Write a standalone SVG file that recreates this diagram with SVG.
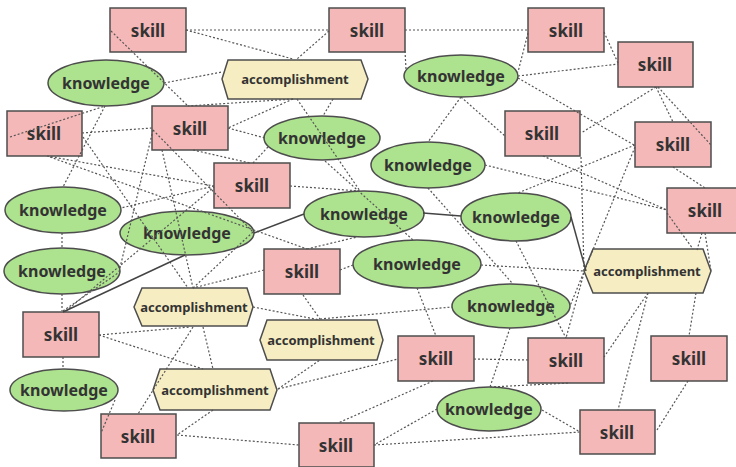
<svg xmlns="http://www.w3.org/2000/svg" width="736" height="467" viewBox="0 0 736 467">
<style>
.sk rect{fill:#f4b8b8;stroke:#4d4d4d;stroke-width:1.5}
.kn ellipse{fill:#ade28e;stroke:#4d4d4d;stroke-width:1.5}
.ac polygon{fill:#f6edc2;stroke:#4d4d4d;stroke-width:1.5}
text{font-family:"Noto Sans","Open Sans",sans-serif;font-weight:bold;fill:#333;text-anchor:middle;dominant-baseline:central}
.sk text{font-size:17px}
.kn text{font-size:16px}
.ac text{font-size:13px}
.d line{stroke:#555;stroke-width:1.2;stroke-dasharray:2 2;fill:none}
.s line{stroke:#444;stroke-width:1.5;fill:none}
</style>
<rect width="736" height="467" fill="#fff"/>
<g id="nodes">
<g id="S1" class="sk"><rect x="110" y="8" width="76" height="44"/><text x="148" y="30">skill</text></g>
<g id="S2" class="sk"><rect x="329" y="8" width="76" height="44"/><text x="367" y="30">skill</text></g>
<g id="S3" class="sk"><rect x="528" y="8" width="76" height="44"/><text x="566" y="30">skill</text></g>
<g id="S4" class="sk"><rect x="618" y="42" width="75" height="45"/><text x="655" y="64">skill</text></g>
<g id="S5" class="sk"><rect x="7" y="111" width="75" height="45"/><text x="44" y="133">skill</text></g>
<g id="S6" class="sk"><rect x="152" y="106" width="76" height="44"/><text x="190" y="128">skill</text></g>
<g id="S7" class="sk"><rect x="214" y="163" width="76" height="45"/><text x="252" y="185">skill</text></g>
<g id="S8" class="sk"><rect x="505" y="111" width="75" height="45"/><text x="542" y="133">skill</text></g>
<g id="S9" class="sk"><rect x="635" y="122" width="76" height="45"/><text x="673" y="144">skill</text></g>
<g id="S10" class="sk"><rect x="667" y="188" width="76" height="45"/><text x="705" y="210">skill</text></g>
<g id="S11" class="sk"><rect x="264" y="249" width="76" height="45"/><text x="302" y="271">skill</text></g>
<g id="S12" class="sk"><rect x="23" y="312" width="76" height="45"/><text x="61" y="334">skill</text></g>
<g id="S13" class="sk"><rect x="398" y="336" width="76" height="45"/><text x="436" y="358">skill</text></g>
<g id="S14" class="sk"><rect x="528" y="338" width="76" height="45"/><text x="566" y="360">skill</text></g>
<g id="S15" class="sk"><rect x="651" y="336" width="76" height="45"/><text x="689" y="358">skill</text></g>
<g id="S16" class="sk"><rect x="580" y="410" width="75" height="44"/><text x="617" y="432">skill</text></g>
<g id="S17" class="sk"><rect x="101" y="414" width="75" height="44"/><text x="138" y="436">skill</text></g>
<g id="S18" class="sk"><rect x="299" y="423" width="75" height="44"/><text x="336" y="445">skill</text></g>
<g id="K1" class="kn"><ellipse cx="106" cy="83" rx="58" ry="23"/><text x="106" y="83">knowledge</text></g>
<g id="K2" class="kn"><ellipse cx="461" cy="76" rx="57" ry="21"/><text x="461" y="76">knowledge</text></g>
<g id="K3" class="kn"><ellipse cx="322" cy="138" rx="58" ry="22"/><text x="322" y="138">knowledge</text></g>
<g id="K4" class="kn"><ellipse cx="428" cy="165" rx="57" ry="23"/><text x="428" y="165">knowledge</text></g>
<g id="K5" class="kn"><ellipse cx="63" cy="210" rx="58" ry="23"/><text x="63" y="210">knowledge</text></g>
<g id="K6" class="kn"><ellipse cx="187" cy="233" rx="67" ry="22"/><text x="187" y="233">knowledge</text></g>
<g id="K7" class="kn"><ellipse cx="364" cy="214" rx="60" ry="23"/><text x="364" y="214">knowledge</text></g>
<g id="K8" class="kn"><ellipse cx="516" cy="217" rx="55" ry="24"/><text x="516" y="217">knowledge</text></g>
<g id="K9" class="kn"><ellipse cx="62" cy="271" rx="58" ry="23"/><text x="62" y="271">knowledge</text></g>
<g id="K10" class="kn"><ellipse cx="417" cy="264" rx="64" ry="24"/><text x="417" y="264">knowledge</text></g>
<g id="K11" class="kn"><ellipse cx="511" cy="306" rx="59" ry="22"/><text x="511" y="306">knowledge</text></g>
<g id="K12" class="kn"><ellipse cx="64" cy="390" rx="54" ry="21"/><text x="64" y="390">knowledge</text></g>
<g id="K13" class="kn"><ellipse cx="489" cy="409" rx="52" ry="22"/><text x="489" y="409">knowledge</text></g>
<g id="A1" class="ac"><polygon points="222,79 228,60 361,60 368,79 361,99 228,99"/><text x="295" y="79">accomplishment</text></g>
<g id="A2" class="ac"><polygon points="584,271 593,249 703,249 711,271 703,293 593,293"/><text x="647" y="271">accomplishment</text></g>
<g id="A3" class="ac"><polygon points="134,307 142,288 247,288 253,307 247,326 142,326"/><text x="194" y="307">accomplishment</text></g>
<g id="A4" class="ac"><polygon points="260,340 267,320 377,320 383,340 377,360 267,360"/><text x="321" y="340">accomplishment</text></g>
<g id="A5" class="ac"><polygon points="153,390 160,369 270,369 277,390 270,410 160,410"/><text x="215" y="390">accomplishment</text></g>
</g>
<g id="connectors">
<g class="d">
<line x1="186" y1="30" x2="329" y2="30"/>
<line x1="186" y1="30" x2="293" y2="59"/>
<line x1="329" y1="31" x2="297" y2="59"/>
<line x1="111" y1="31" x2="188" y2="106"/>
<line x1="164" y1="83" x2="222" y2="72"/>
<line x1="10" y1="137" x2="105" y2="106"/>
<line x1="105" y1="106" x2="63" y2="187"/>
<line x1="82" y1="133" x2="152" y2="128"/>
<line x1="293" y1="99" x2="188" y2="106"/>
<line x1="293" y1="99" x2="228" y2="128"/>
<line x1="228" y1="128" x2="265" y2="138"/>
<line x1="297" y1="99" x2="360" y2="191"/>
<line x1="333" y1="99" x2="323" y2="116"/>
<line x1="268" y1="147" x2="253" y2="163"/>
<line x1="193" y1="150" x2="250" y2="163"/>
<line x1="47" y1="156" x2="214" y2="186"/>
<line x1="50" y1="157" x2="307" y2="249"/>
<line x1="83" y1="137" x2="188" y2="288"/>
<line x1="153" y1="130" x2="119" y2="272"/>
<line x1="153" y1="130" x2="253" y2="232"/>
<line x1="162" y1="150" x2="193" y2="288"/>
<line x1="214" y1="186" x2="121" y2="208"/>
<line x1="325" y1="161" x2="413" y2="240"/>
<line x1="290" y1="186" x2="360" y2="191"/>
<line x1="461" y1="97" x2="428" y2="142"/>
<line x1="461" y1="97" x2="505" y2="136"/>
<line x1="405" y1="30" x2="528" y2="30"/>
<line x1="405" y1="51" x2="406" y2="69"/>
<line x1="528" y1="33" x2="518" y2="72"/>
<line x1="604" y1="32" x2="618" y2="63"/>
<line x1="518" y1="76" x2="618" y2="64"/>
<line x1="518" y1="78" x2="634" y2="145"/>
<line x1="656" y1="87" x2="581" y2="133"/>
<line x1="656" y1="87" x2="673" y2="122"/>
<line x1="658" y1="87" x2="711" y2="145"/>
<line x1="635" y1="145" x2="518" y2="193"/>
<line x1="635" y1="147" x2="570" y2="306"/>
<line x1="543" y1="156" x2="667" y2="210"/>
<line x1="581" y1="157" x2="584" y2="271"/>
<line x1="485" y1="165" x2="667" y2="210"/>
<line x1="673" y1="167" x2="705" y2="188"/>
<line x1="705" y1="233" x2="711" y2="271"/>
<line x1="702" y1="233" x2="697" y2="250"/>
<line x1="667" y1="213" x2="693" y2="249"/>
<line x1="428" y1="188" x2="513" y2="284"/>
<line x1="516" y1="241" x2="566" y2="338"/>
<line x1="481" y1="265" x2="584" y2="271"/>
<line x1="584" y1="273" x2="566" y2="338"/>
<line x1="307" y1="249" x2="357" y2="237"/>
<line x1="340" y1="270" x2="353" y2="265"/>
<line x1="264" y1="270" x2="193" y2="288"/>
<line x1="253" y1="232" x2="193" y2="288"/>
<line x1="253" y1="307" x2="320" y2="320"/>
<line x1="303" y1="295" x2="320" y2="319"/>
<line x1="320" y1="319" x2="452" y2="307"/>
<line x1="417" y1="288" x2="436" y2="336"/>
<line x1="63" y1="311" x2="118" y2="273"/>
<line x1="66" y1="311" x2="214" y2="187"/>
<line x1="62" y1="233" x2="62" y2="248"/>
<line x1="62" y1="294" x2="62" y2="311"/>
<line x1="99" y1="335" x2="190" y2="327"/>
<line x1="99" y1="335" x2="203" y2="369"/>
<line x1="193" y1="327" x2="138" y2="414"/>
<line x1="203" y1="327" x2="213" y2="369"/>
<line x1="63" y1="357" x2="63" y2="369"/>
<line x1="115" y1="400" x2="101" y2="433"/>
<line x1="213" y1="410" x2="177" y2="435"/>
<line x1="177" y1="435" x2="299" y2="445"/>
<line x1="278" y1="389" x2="320" y2="360"/>
<line x1="278" y1="389" x2="398" y2="359"/>
<line x1="510" y1="328" x2="490" y2="387"/>
<line x1="474" y1="359" x2="528" y2="360"/>
<line x1="433" y1="381" x2="338" y2="423"/>
<line x1="437" y1="409" x2="374" y2="445"/>
<line x1="374" y1="445" x2="580" y2="432"/>
<line x1="542" y1="410" x2="580" y2="432"/>
<line x1="490" y1="387" x2="570" y2="383"/>
<line x1="648" y1="293" x2="604" y2="357"/>
<line x1="648" y1="293" x2="618" y2="410"/>
<line x1="696" y1="293" x2="689" y2="336"/>
<line x1="688" y1="381" x2="657" y2="430"/>
</g>
<g class="s">
<line x1="63" y1="312" x2="185" y2="255"/>
<line x1="254" y1="233" x2="304" y2="214"/>
<line x1="423" y1="213" x2="461" y2="216"/>
<line x1="571" y1="217" x2="586" y2="271"/>
</g>
</g>
</svg>
